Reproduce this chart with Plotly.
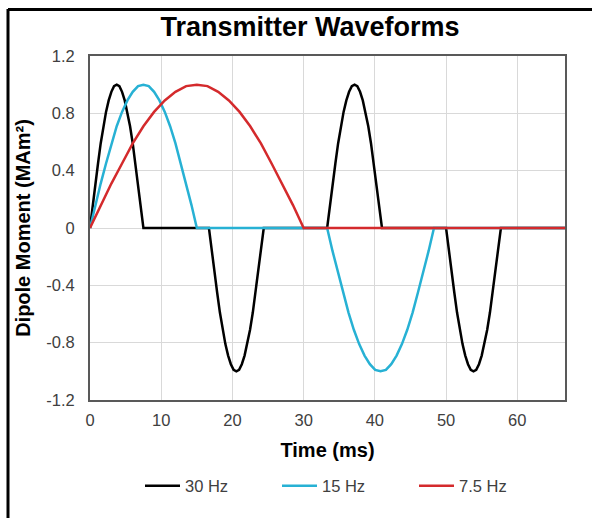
import plotly.graph_objects as go

# ---- data ----
t_30hz = [0, 0.375, 0.75, 1.125, 1.5, 1.875, 2.25, 2.625, 3.0, 3.375, 3.75,
          4.125, 4.5, 4.875, 5.25, 5.625, 6.0, 6.375, 6.75, 7.125, 7.5,
          16.7, 17.085, 17.47, 17.855, 18.24, 18.625, 19.01, 19.395, 19.78, 20.165, 20.55,
          20.935, 21.32, 21.705, 22.09, 22.475, 22.86, 23.245, 23.63, 24.015, 24.4,
          33.3, 33.685, 34.07, 34.455, 34.84, 35.225, 35.61, 35.995, 36.38, 36.765, 37.15,
          37.535, 37.92, 38.305, 38.69, 39.075, 39.46, 39.845, 40.23, 40.615, 41.0,
          50.0, 50.385, 50.77, 51.155, 51.54, 51.925, 52.31, 52.695, 53.08, 53.465, 53.85,
          54.235, 54.62, 55.005, 55.39, 55.775, 56.16, 56.545, 56.93, 57.315, 57.7,
          66.7]
v_30hz = [0, 0.16, 0.31, 0.45, 0.59, 0.71, 0.81, 0.89, 0.95, 0.99, 1.0,
          0.99, 0.95, 0.89, 0.81, 0.71, 0.59, 0.45, 0.31, 0.16, 0,
          0, -0.16, -0.31, -0.45, -0.59, -0.71, -0.81, -0.89, -0.95, -0.99, -1.0,
          -0.99, -0.95, -0.89, -0.81, -0.71, -0.59, -0.45, -0.31, -0.16, 0,
          0, 0.16, 0.31, 0.45, 0.59, 0.71, 0.81, 0.89, 0.95, 0.99, 1.0,
          0.99, 0.95, 0.89, 0.81, 0.71, 0.59, 0.45, 0.31, 0.16, 0,
          0, -0.16, -0.31, -0.45, -0.59, -0.71, -0.81, -0.89, -0.95, -0.99, -1.0,
          -0.99, -0.95, -0.89, -0.81, -0.71, -0.59, -0.45, -0.31, -0.16, 0,
          0]

t_15hz = [0, 0.75, 1.5, 2.25, 3.0, 3.75, 4.5, 5.25, 6.0, 6.75, 7.5,
          8.25, 9.0, 9.75, 10.5, 11.25, 12.0, 12.75, 13.5, 14.25, 15.0,
          33.3, 34.05, 34.8, 35.55, 36.3, 37.05, 37.8, 38.55, 39.3, 40.05, 40.8,
          41.55, 42.3, 43.05, 43.8, 44.55, 45.3, 46.05, 46.8, 47.55, 48.3,
          66.7]
v_15hz = [0, 0.16, 0.31, 0.45, 0.59, 0.71, 0.81, 0.89, 0.95, 0.99, 1.0,
          0.99, 0.95, 0.89, 0.81, 0.71, 0.59, 0.45, 0.31, 0.16, 0,
          0, -0.16, -0.31, -0.45, -0.59, -0.71, -0.81, -0.89, -0.95, -0.99, -1.0,
          -0.99, -0.95, -0.89, -0.81, -0.71, -0.59, -0.45, -0.31, -0.16, 0,
          0]

t_7_5hz = [0, 1.5, 3.0, 4.5, 6.0, 7.5, 9.0, 10.5, 12.0, 13.5, 15.0,
           16.5, 18.0, 19.5, 21.0, 22.5, 24.0, 25.5, 27.0, 28.5, 30.0,
           66.7]
v_7_5hz = [0, 0.16, 0.31, 0.45, 0.59, 0.71, 0.81, 0.89, 0.95, 0.99, 1.0,
           0.99, 0.95, 0.89, 0.81, 0.71, 0.59, 0.45, 0.31, 0.16, 0,
           0]

series_names = ["30 Hz", "15 Hz", "7.5 Hz"]
series_colors = ["#000000", "#27b1d4", "#d42a2c"]

x_tick_vals = [0, 10, 20, 30, 40, 50, 60]
y_tick_vals = [-1.2, -0.8, -0.4, 0, 0.4, 0.8, 1.2]
y_tick_text = ["-1.2", "-0.8", "-0.4", "0", "0.4", "0.8", "1.2"]

FONT = "Liberation Sans, Arial, sans-serif"

fig = go.Figure()
for t, v, name, col in zip([t_30hz, t_15hz, t_7_5hz],
                           [v_30hz, v_15hz, v_7_5hz],
                           series_names, series_colors):
    fig.add_trace(go.Scatter(x=t, y=v, mode="lines", name=name,
                             line=dict(color=col, width=2.5)))

# plot area in pixels: left 90, right 565, top 56, bottom 400
L, R, T, B = 90, 565, 56, 400
W, H = 592, 518
pw, ph = R - L, B - T


def px(x):
    return (x - L) / pw


def py(y):
    return (B - y) / ph


fig.update_layout(
    width=W, height=H,
    margin=dict(l=L, r=W - R, t=T, b=H - B),
    paper_bgcolor="white", plot_bgcolor="white",
    font=dict(family=FONT, size=16, color="#404040"),
    title=dict(text="<b>Transmitter Waveforms</b>", x=310 / W,
               xanchor="center", y=1 - 27 / H, yanchor="middle",
               font=dict(family=FONT, size=27, color="#000000")),
    xaxis=dict(range=[0, 66.7], tickvals=x_tick_vals, showgrid=True,
               gridcolor="#d9d9d9", gridwidth=1, zeroline=False,
               showline=True, linecolor="#595959", linewidth=2, mirror=True,
               ticks="", ticklabelstandoff=4,
               tickfont=dict(size=16.5, color="#404040"),
               title=dict(text="<b>Time (ms)</b>", standoff=15,
                          font=dict(family=FONT, size=20, color="#000000"))),
    yaxis=dict(range=[-1.2, 1.2], tickvals=y_tick_vals, ticktext=y_tick_text,
               showgrid=True, gridcolor="#d9d9d9", gridwidth=1, zeroline=False,
               showline=True, linecolor="#595959", linewidth=2, mirror=True,
               ticks="", ticklabelstandoff=10,
               tickfont=dict(size=16.5, color="#404040"),
               title=dict(text="<b>Dipole Moment (MAm²)</b>", standoff=10,
                          font=dict(family=FONT, size=20, color="#000000"))),
    legend=dict(orientation="h", x=px(140), xanchor="left",
                y=py(486), yanchor="middle",
                entrywidth=87, entrywidthmode="pixels",
                font=dict(family=FONT, size=16.5, color="#404040"),
                itemwidth=35),
    showlegend=True,
)

# outer chart frame (top and left edges visible in the reference)
fig.add_shape(type="line", xref="paper", yref="paper",
              x0=px(8), x1=px(8), y0=py(530), y1=py(9),
              line=dict(color="#000000", width=3))
fig.add_shape(type="line", xref="paper", yref="paper",
              x0=px(8), x1=px(600), y0=py(9.5), y1=py(9.5),
              line=dict(color="#000000", width=3))

fig.write_html("out.html")
